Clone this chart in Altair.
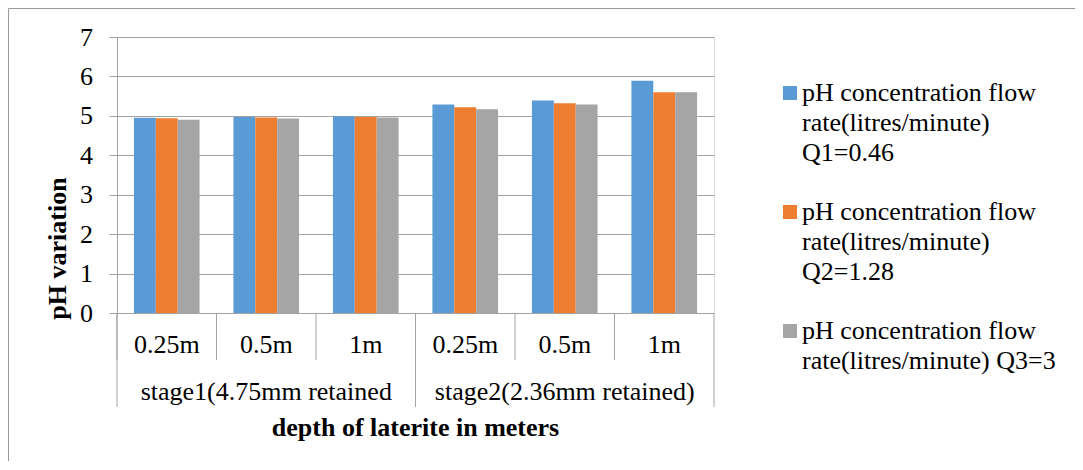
import altair as alt
import pandas as pd

# ---- data ----
stages = ["stage1(4.75mm retained", "stage2(2.36mm retained)"]
depths = ["0.25m", "0.5m", "1m"]
series = ["Q1=0.46", "Q2=1.28", "Q3=3"]
legend_labels = [
    "pH concentration flow\nrate(litres/minute)\nQ1=0.46",
    "pH concentration flow\nrate(litres/minute)\nQ2=1.28",
    "pH concentration flow\nrate(litres/minute) Q3=3",
]
q1_values = [4.95, 4.97, 4.99, 5.29, 5.39, 5.89]
q2_values = [4.94, 4.96, 4.97, 5.22, 5.32, 5.60]
q3_values = [4.90, 4.93, 4.96, 5.17, 5.29, 5.60]
y_ticks = [0, 1, 2, 3, 4, 5, 6, 7]
colors = ["#5B9BD5", "#ED7D31", "#A5A5A5"]

# ---- tables built from the arrays ----
keys, cat_rows = [], []
for si, s in enumerate(stages):
    for di, d in enumerate(depths):
        k = f"{si}|{d}"
        keys.append(k)
        cat_rows.append({"key": k, "depth": d, "stage": s, "di": di, "si": si})
cats = pd.DataFrame(cat_rows)

bar_rows = []
for name, vals in zip(series, [q1_values, q2_values, q3_values]):
    for k, v in zip(keys, vals):
        bar_rows.append({"key": k, "series": name, "value": v})
bars_df = pd.DataFrame(bar_rows)

legend_df = pd.DataFrame({"series": series, "label": legend_labels, "idx": list(range(len(series)))})

FONT = "Liberation Serif"
GRID = "#a3a3a3"
W, H = 597, 276

xscale = alt.Scale(domain=keys, paddingInner=0, paddingOuter=0)
color = alt.Color("series:N", scale=alt.Scale(domain=series, range=colors), legend=None)

frame = alt.Chart(pd.DataFrame({"a": [0]})).mark_rect(
    fillOpacity=0, stroke="#9a9a9a", strokeWidth=1
).encode(
    x=alt.value(-108.5), x2=alt.value(1000), y=alt.value(-28.5), y2=alt.value(600)
)

bars = alt.Chart(bars_df).mark_bar().encode(
    x=alt.X("key:N", sort=keys, scale=xscale,
            axis=alt.Axis(labels=False, ticks=False, title=None, domain=True,
                          domainColor=GRID, domainWidth=1, grid=False)),
    xOffset=alt.XOffset("series:N", sort=series,
                        scale=alt.Scale(domain=series, paddingInner=0, paddingOuter=0.773)),
    y=alt.Y("value:Q", scale=alt.Scale(domain=[0, 7], nice=False, zero=True),
            axis=alt.Axis(values=y_ticks, tickSize=8, tickColor=GRID, labelPadding=16.5,
                          labelFont=FONT, labelFontSize=26, labelColor="black",
                          domain=True, domainColor=GRID, grid=True, gridColor=GRID,
                          gridWidth=1, title="pH variation", titleFont=FONT,
                          titleFontSize=26, titleFontWeight="bold", titleColor="black",
                          titleAngle=270, titleX=-52, titleY=211, titleAlign="center",
                          titleBaseline="alphabetic")),
    color=color,
)

rules_short = alt.Chart(cats).mark_rule(color=GRID, strokeWidth=1).encode(
    x=alt.X("key:N", sort=keys, scale=xscale, bandPosition=0, axis=None),
    y=alt.value(H), y2=alt.value(323),
)
rules_long = alt.Chart(cats).transform_filter("datum.di == 0").mark_rule(
    color=GRID, strokeWidth=1).encode(
    x=alt.X("key:N", sort=keys, scale=xscale, bandPosition=0, axis=None),
    y=alt.value(H), y2=alt.value(370),
)
rule_end = alt.Chart(cats).transform_filter(
    f"datum.di == {len(depths) - 1} && datum.si == {len(stages) - 1}").mark_rule(
    color=GRID, strokeWidth=1).encode(
    x=alt.X("key:N", sort=keys, scale=xscale, bandPosition=1, axis=None),
    y=alt.value(H), y2=alt.value(370),
)

depth_text = alt.Chart(cats).mark_text(
    font=FONT, fontSize=26, color="black", align="center", baseline="alphabetic"
).encode(
    x=alt.X("key:N", sort=keys, scale=xscale, axis=None),
    y=alt.value(316), text="depth:N",
)
stage_text = alt.Chart(cats).transform_filter("datum.di == 1").mark_text(
    font=FONT, fontSize=26, color="black", align="center", baseline="alphabetic"
).encode(
    x=alt.X("key:N", sort=keys, scale=xscale, axis=None),
    y=alt.value(363), text="stage:N",
)
x_title = alt.Chart(pd.DataFrame({"t": ["depth of laterite in meters"]})).mark_text(
    font=FONT, fontSize=26, fontWeight="bold", color="black", align="center",
    baseline="alphabetic"
).encode(x=alt.value(W / 2), y=alt.value(399), text="t:N")

leg_y = alt.Y("idx:Q", scale=alt.Scale(domain=[0, 2], range=[64, 302], nice=False, zero=False),
              axis=None)
leg_sq = alt.Chart(legend_df).mark_square(size=196, opacity=1, yOffset=-8).encode(
    x=alt.value(673), y=leg_y, color=color,
)
leg_text = alt.Chart(legend_df).mark_text(
    font=FONT, fontSize=26, color="black", align="left", baseline="alphabetic",
    lineBreak="\n", lineHeight=30
).encode(x=alt.value(685), y=leg_y, text="label:N")

chart = alt.layer(
    frame, bars, rules_short, rules_long, rule_end, depth_text, stage_text, x_title,
    leg_sq, leg_text
).resolve_scale(y="independent").properties(
    width=W, height=H,
    autosize=alt.AutoSizeParams(type="none"),
    padding={"left": 109, "top": 29, "right": 361, "bottom": 148},
).configure_view(stroke=None).configure(background="white")

chart.save("out.html", embed_options={"renderer": "svg", "actions": False})
